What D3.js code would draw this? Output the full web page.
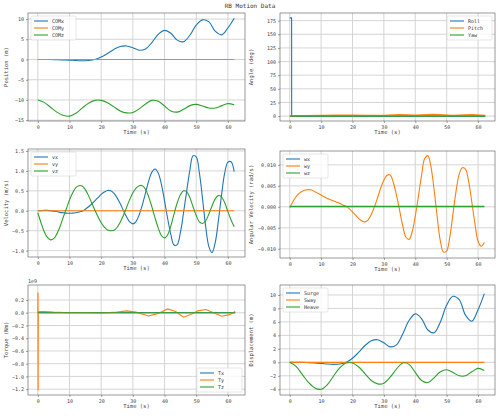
<!DOCTYPE html>
<html><head><meta charset="utf-8">
<script src="https://cdn.jsdelivr.net/npm/d3@7"></script>
<style>body{margin:0;background:#fff}svg{font-family:"DejaVu Sans Mono",monospace}</style>
</head><body><svg id="c" width="500" height="416"></svg>
<script>
// ---- data ----
const t2 = d3.range(0, 63, 2);           // 0..62 step 2
const comX = [0,0,0,-0.05,-0.1,-0.15,-0.25,-0.3,-0.25,0,0.6,1.5,2.5,3.2,3.35,2.9,2.3,2.6,4.2,6.2,7.2,6.5,4.8,4.4,6.0,8.5,9.8,9.3,7.0,6.1,7.8,10.2];
const comY = t2.map(() => 0);
const comZ = [-10,-10.6,-11.8,-13,-13.8,-14,-13.3,-12,-10.8,-10.1,-10.1,-10.7,-11.7,-12.7,-13.2,-13.1,-12.2,-11,-10.1,-10.3,-11.5,-12.7,-13,-12.3,-11.4,-11.1,-11.5,-12,-12,-11.4,-10.9,-11.2];
const surge = comX;
const sway = comY;
const heave = [0,-0.6,-1.8,-3,-3.8,-4,-3.3,-2,-0.8,-0.1,-0.1,-0.7,-1.7,-2.7,-3.2,-3.1,-2.2,-1,-0.1,-0.3,-1.5,-2.7,-3,-2.3,-1.4,-1.1,-1.5,-2,-2,-1.4,-0.9,-1.2];

const tRoll = [0,0.6,0.62,62.3];
const roll = [180,180,0,0];
const tAng = [0,5,10,15,20,25,30,35,40,46,52,58,62.3];
const pitch = [0,1,1.5,1.7,1.8,1.6,1.5,3,1.8,3.5,1.5,3,1.5];
const yaw = tAng.map(() => 0);

const t1 = d3.range(0, 63, 1);
const vx = [0,0,0.01,0.01,0,-0.01,-0.02,-0.04,-0.05,-0.06,-0.06,-0.06,-0.05,-0.03,-0.01,0.04,0.1,0.17,0.25,0.33,0.41,0.47,0.51,0.5,0.44,0.33,0.18,0.01,-0.15,-0.28,-0.33,-0.27,-0.1,0.15,0.45,0.75,0.97,1.05,0.95,0.67,0.25,-0.2,-0.6,-0.86,-0.85,-0.55,-0.05,0.5,1.02,1.38,1.35,0.95,0.3,-0.4,-0.9,-1.05,-0.8,-0.25,0.4,0.95,1.22,1.23,0.98];
const vy = t1.map(() => 0);
const vz = [-0.05,-0.3,-0.52,-0.67,-0.73,-0.7,-0.58,-0.4,-0.17,0.05,0.27,0.45,0.58,0.63,0.62,0.53,0.38,0.2,0.02,-0.15,-0.3,-0.41,-0.48,-0.5,-0.49,-0.42,-0.29,-0.12,0.08,0.28,0.45,0.57,0.63,0.63,0.54,0.35,0.1,-0.18,-0.43,-0.62,-0.68,-0.6,-0.38,-0.08,0.2,0.4,0.5,0.48,0.33,0.1,-0.12,-0.28,-0.32,-0.25,-0.08,0.12,0.3,0.38,0.35,0.2,-0.02,-0.23,-0.4];

const wx = t1.map(() => 0);
const wy = [-0.0003,0.0012,0.0024,0.0032,0.0037,0.004,0.0041,0.004,0.0036,0.0032,0.0028,0.0024,0.002,0.0017,0.0014,0.0011,0.0008,0.0004,0.0001,-0.0005,-0.0012,-0.002,-0.0028,-0.0034,-0.0036,-0.0031,-0.0018,0,0.0022,0.0045,0.0064,0.0075,0.0076,0.0058,0.0028,-0.0008,-0.0045,-0.0072,-0.0078,-0.006,-0.0022,0.0025,0.0075,0.0115,0.0122,0.0095,0.004,-0.0025,-0.0082,-0.0108,-0.0105,-0.0072,-0.0018,0.0038,0.0078,0.0093,0.009,0.006,0.0012,-0.004,-0.0082,-0.0094,-0.0085];
const wz = t1.map(() => 0.0001);

const tTq = [0,0.05,0.1,0.15,0.3,2,5,10,15,20,25,28,31,35,38,41,43.5,46,49,50.5,53,55.5,58,60.5,62.3];
const ty = [0,0.32,-1.22,0.02,0.02,0.02,0.01,0,0,-0.005,0.01,0.03,0.01,-0.05,-0.01,0.06,0.02,-0.07,-0.01,0.03,0.05,0,-0.055,-0.03,0.02];
const tx = tTq.map(() => 0);
const tz = tTq.map(() => 0);

const xTicks = [0,10,20,30,40,50,60];
const colors = ["#1f77b4","#ff7f0e","#2ca02c"];

// ---- panels ----
const panels = [
 {box:[28,13,245,121], yd:[-15.2,11.5], yt:[-15,-10,-5,0,5,10], ylab:"Position (m)", leg:"tl",
  series:[["COMx",t2,comX],["COMy",t2,comY],["COMz",t2,comZ]], fmt:d3.format("d")},
 {box:[280,13,495,121], yd:[-9,189], yt:[0,25,50,75,100,125,150,175], ylab:"Angle (deg)", leg:"tr",
  series:[["Roll",tRoll,roll],["Pitch",tAng,pitch],["Yaw",tAng,yaw]], fmt:d3.format("d"), linear:true},
 {box:[28,149,245,257], yd:[-1.16,1.55], yt:[-1,-0.5,0,0.5,1,1.5], ylab:"Velocity (m/s)", leg:"tl",
  series:[["vx",t1,vx],["vy",t1,vy],["vz",t1,vz]], fmt:d3.format(".1f")},
 {box:[280,151,495,258], yd:[-0.0122,0.0133], yt:[-0.01,-0.005,0,0.005,0.01], ylab:"Angular Velocity (rad/s)", leg:"tl",
  series:[["wx",t1,wx],["wy",t1,wy],["wz",t1,wz]], fmt:d3.format(".3f")},
 {box:[28,285,245,395], yd:[-1.292,0.436], yt:[-1.2,-1,-0.8,-0.6,-0.4,-0.2,0,0.2], ylab:"Torque (Nm)", leg:"br",
  series:[["Tx",tTq,tx],["Ty",tTq,ty],["Tz",tTq,tz]], fmt:d3.format(".1f"), offset:"1e9", linear:true},
 {box:[280,285,495,395], yd:[-4.85,11.48], yt:[-4,-2,0,2,4,6,8,10], ylab:"Displacement (m)", leg:"tl",
  series:[["Surge",t2,surge],["Sway",t2,sway],["Heave",t2,heave]], fmt:d3.format("d")}
];

const svg = d3.select("#c");
svg.append("text").attr("x",250).attr("y",8).attr("text-anchor","middle").attr("font-size",6).attr("fill","#333").text("RB Motion Data");

panels.forEach((p,i) => {
  const [x0,y0,x1,y1] = p.box;
  const x = d3.scaleLinear().domain([-3.1,65.4]).range([x0,x1]);
  const y = d3.scaleLinear().domain(p.yd).range([y1,y0]);
  const g = svg.append("g");
  const cid = "clip"+i;
  g.append("clipPath").attr("id",cid).append("rect").attr("x",x0).attr("y",y0).attr("width",x1-x0).attr("height",y1-y0);
  // grid
  g.selectAll(".gx").data(xTicks).join("line").attr("x1",d=>x(d)).attr("x2",d=>x(d)).attr("y1",y0).attr("y2",y1).attr("stroke","#d0d0d0").attr("stroke-width",0.9);
  g.selectAll(".gy").data(p.yt).join("line").attr("y1",d=>y(d)).attr("y2",d=>y(d)).attr("x1",x0).attr("x2",x1).attr("stroke","#d0d0d0").attr("stroke-width",0.9);
  // axes
  const ax = g.append("g").attr("transform",`translate(0,${y1})`).call(d3.axisBottom(x).tickValues(xTicks).tickSize(2).tickPadding(2));
  const ay = g.append("g").attr("transform",`translate(${x0},0)`).call(d3.axisLeft(y).tickValues(p.yt).tickFormat(d=>p.fmt(d).replace("-","−")).tickSize(2).tickPadding(2));
  [ax,ay].forEach(a=>{a.select(".domain").remove(); a.selectAll("text").attr("font-size",5).attr("fill","#444").attr("font-family","DejaVu Sans Mono"); a.selectAll("line").attr("stroke","#444").attr("stroke-width",0.5);});
  g.append("rect").attr("x",x0).attr("y",y0).attr("width",x1-x0).attr("height",y1-y0).attr("fill","none").attr("stroke","#555").attr("stroke-width",0.6);
  g.append("text").attr("x",(x0+x1)/2).attr("y",y1+13).attr("text-anchor","middle").attr("font-size",5.5).attr("fill","#444").text("Time (s)");
  const ylx = x0 - (i%2===0?20:27);
  g.append("text").attr("transform",`translate(${ylx},${(y0+y1)/2}) rotate(-90)`).attr("text-anchor","middle").attr("font-size",5.5).attr("fill","#444").text(p.ylab);
  if (p.offset) g.append("text").attr("x",x0).attr("y",y0-2).attr("font-size",5).attr("fill","#444").text(p.offset);
  // lines
  const lines = g.append("g").attr("clip-path",`url(#${cid})`);
  p.series.forEach((s,k) => {
    const pts = s[1].map((tv,j)=>[tv,s[2][j]]);
    const line = d3.line().x(d=>x(d[0])).y(d=>y(d[1])).curve(p.linear?d3.curveLinear:d3.curveCatmullRom);
    lines.append("path").attr("d",line(pts)).attr("fill","none").attr("stroke",colors[k]).attr("stroke-width",1.1);
  });
  // legend
  const lw=45, lh=24;
  let lx = p.leg==="tl"? x0+3 : x1-lw-3;
  let ly = p.leg==="br"? y1-lh-3 : y0+3;
  const lg = g.append("g").attr("transform",`translate(${lx},${ly})`);
  lg.append("rect").attr("width",lw).attr("height",lh).attr("rx",1.5).attr("fill","#fff").attr("fill-opacity",0.8).attr("stroke","#ccc").attr("stroke-width",0.5);
  p.series.forEach((s,k)=>{
    const yy = 5+k*7;
    lg.append("line").attr("x1",3).attr("x2",17).attr("y1",yy).attr("y2",yy).attr("stroke",colors[k]).attr("stroke-width",1.1);
    lg.append("text").attr("x",21).attr("y",yy+1.8).attr("font-size",5).attr("fill","#333").text(s[0]);
  });
});
</script></body></html>
